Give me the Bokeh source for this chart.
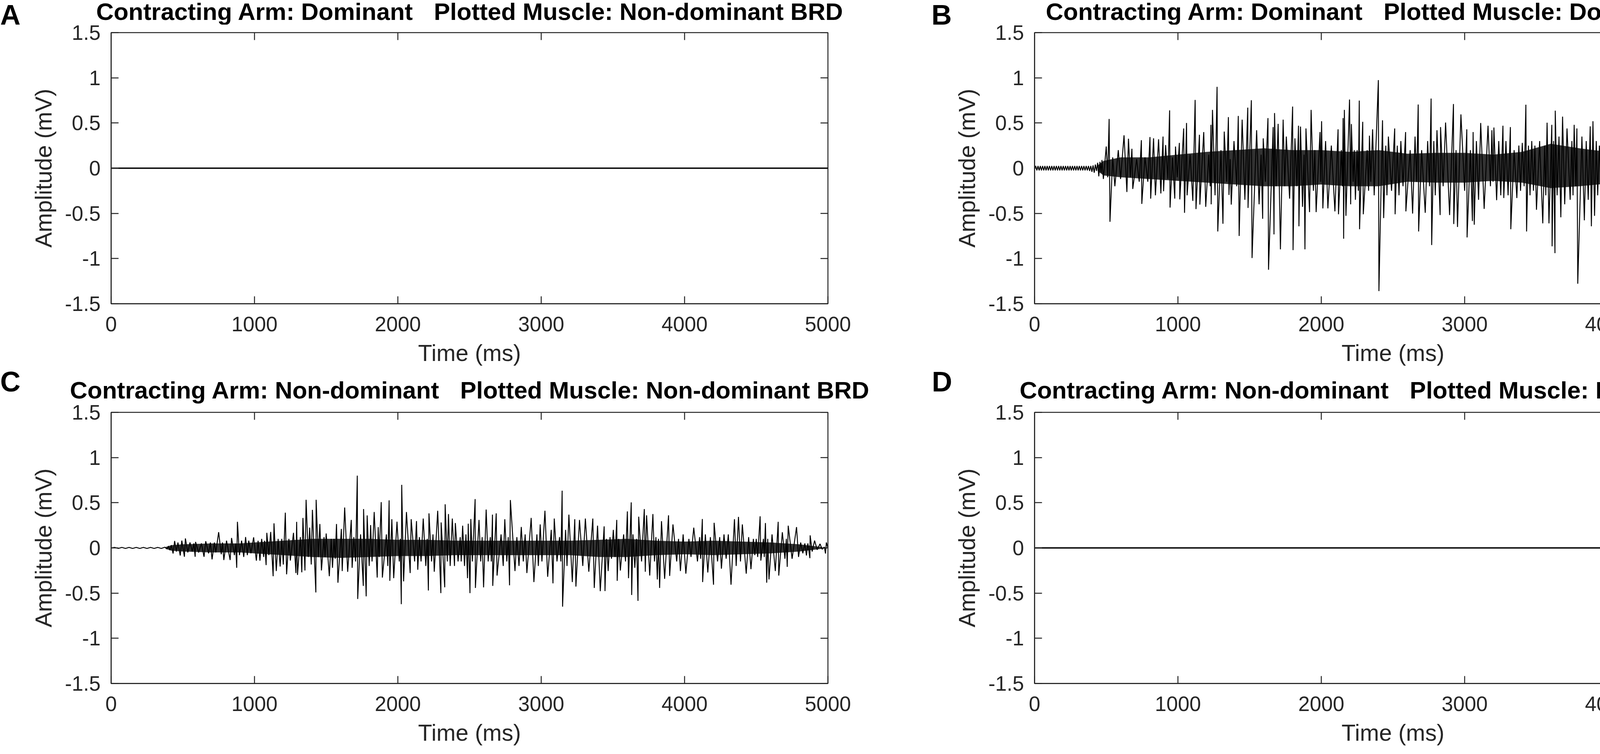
from bokeh.plotting import figure
from bokeh.models import Range1d, FixedTicker, NumeralTickFormatter
from bokeh.layouts import column, row
from bokeh.core.properties import value
from bokeh.embed import file_html
from bokeh.resources import INLINE

# ---------------- data ----------------
time_ticks = [0, 1000, 2000, 3000, 4000, 5000]
amp_ticks = [-1.5, -1, -0.5, 0, 0.5, 1, 1.5]

panel_letters = ["A", "B", "C", "D"]
title_arm = ["Contracting Arm: Dominant", "Contracting Arm: Dominant",
             "Contracting Arm: Non-dominant", "Contracting Arm: Non-dominant"]
title_muscle = ["Plotted Muscle: Non-dominant BRD", "Plotted Muscle: Dominant BRD",
                "Plotted Muscle: Non-dominant BRD", "Plotted Muscle: Dominant BRD"]
x_label = "Time (ms)"
y_label = "Amplitude (mV)"

# panel A / D: silent muscle (flat trace)
a_time = [0, 5000]
a_amp = [0.0, 0.0]
d_time = [0, 5000]
d_amp = [0.0, 0.0]

# panel B: (time ms, amplitude mV)
b_pre = [(0, 0.0), (8, 0.025), (16, -0.025), (24, 0.025), (32, -0.025), (40, 0.025), (48, -0.025),
         (56, 0.025), (64, -0.025), (72, 0.025), (80, -0.025), (88, 0.025), (96, -0.025), (104, 0.025),
         (112, -0.025), (120, 0.025), (128, -0.025), (136, 0.025), (144, -0.025), (152, 0.025),
         (160, -0.025), (168, 0.025), (176, -0.025), (184, 0.025), (192, -0.025), (200, 0.025),
         (208, -0.025), (216, 0.025), (224, -0.025), (232, 0.025), (240, -0.025), (248, 0.025),
         (256, -0.025), (264, 0.025), (272, -0.025), (280, 0.025), (288, -0.025), (296, 0.025),
         (304, -0.025), (312, 0.025), (320, -0.025), (328, 0.025), (336, -0.025), (344, 0.025),
         (352, -0.025), (360, 0.025), (368, -0.025), (376, 0.025), (384, -0.03), (392, 0.025),
         (400, -0.04), (408, 0.03), (416, -0.05), (424, 0.04), (432, -0.03), (440, 0.06),
         (448, -0.09), (456, 0.07), (464, -0.05)]
b_seg1 = [(470, 0.09), (480, -0.12), (500, 0.24), (510, -0.1), (520, 0.545), (526, -0.593), (545, 0.12),
          (560, -0.2), (584, 0.2), (600, -0.12), (624, 0.364), (644, -0.263), (655, 0.326), (668, -0.1),
          (679, 0.215), (685, -0.23), (712, 0.1), (730, -0.15), (745, 0.31), (748, -0.395), (770, 0.12),
          (790, -0.15), (805, 0.345), (810, -0.337), (830, 0.33), (843, -0.3), (865, 0.32), (881, -0.28),
          (896, 0.35), (900, -0.255), (914, 0.256), (930, -0.12), (942, 0.64), (945, -0.436), (962, 0.12),
          (978, -0.337), (983, 0.24), (995, -0.1), (1010, 0.28), (1013, -0.345), (1040, 0.44), (1046, -0.494),
          (1060, 0.5), (1064, -0.3), (1085, 0.15), (1104, -0.362), (1120, 0.755), (1126, -0.453), (1150, 0.37),
          (1153, -0.403), (1180, 0.4), (1194, -0.428), (1215, 0.15), (1225, -0.2), (1230, 0.48), (1232, -0.4),
          (1241, 0.645), (1259, -0.3), (1273, 0.9), (1278, -0.7), (1300, 0.2), (1314, -0.615), (1323, 0.405),
          (1340, -0.15), (1352, 0.565), (1356, -0.296), (1365, 0.1), (1372, -0.403), (1391, 0.3), (1410, -0.2),
          (1421, 0.578), (1427, -0.75), (1448, 0.537), (1467, -0.35), (1487, 0.67), (1489, -0.44), (1512, 0.752),
          (1517, -0.994), (1549, 0.42), (1566, -0.4), (1580, 0.15), (1591, -0.56), (1595, 0.33), (1610, -0.15),
          (1628, 0.554), (1632, -1.124), (1664, 0.455), (1670, -0.733)]
b_seg2 = [(1674, 0.61), (1685, -0.2), (1699, 0.49), (1715, -0.898), (1734, 0.537), (1745, -0.2), (1756, 0.35),
          (1779, -0.337), (1800, 0.682), (1803, -0.907), (1816, 0.33), (1830, -0.2), (1841, 0.47), (1844, -0.643),
          (1855, 0.46), (1869, -0.428), (1880, 0.15), (1886, -0.898), (1893, 0.44), (1918, -0.486), (1929, 0.645),
          (1945, -0.25), (1955, 0.2), (1964, -0.486), (1991, 0.4), (1996, -0.15), (2002, 0.52), (2011, -0.445),
          (2030, 0.3), (2046, -0.445), (2070, 0.25), (2095, -0.478), (2117, 0.43), (2120, -0.51), (2140, 0.2),
          (2148, -0.2), (2152, 0.554), (2156, -0.78), (2161, 0.645), (2172, -0.527), (2197, 0.76), (2205, -0.4),
          (2210, 0.488), (2222, -0.15), (2230, 0.2), (2238, -0.35), (2250, 0.2), (2258, -0.25), (2265, 0.748),
          (2267, -0.675), (2289, 0.513), (2293, -0.51), (2320, 0.2), (2330, -0.25), (2336, 0.36), (2345, -0.15),
          (2358, 0.43), (2369, -0.3), (2398, 0.975), (2402, -1.36), (2427, 0.53), (2435, -0.552), (2450, 0.25),
          (2458, -0.3), (2468, 0.35), (2490, -0.25), (2512, 0.44), (2515, -0.51), (2530, 0.25), (2542, -0.3),
          (2555, 0.3), (2570, -0.2), (2588, 0.4), (2590, -0.478), (2620, 0.2), (2637, -0.502), (2654, 0.35),
          (2665, -0.15), (2676, 0.705), (2679, -0.7), (2700, 0.2), (2725, -0.494), (2742, 0.3), (2755, -0.2),
          (2766, 0.77), (2770, -0.85), (2785, 0.3), (2795, -0.3), (2807, 0.42), (2829, -0.519), (2832, 0.455),
          (2850, -0.2), (2867, 0.505), (2895, -0.519), (2922, 0.71), (2924, -0.618), (2940, 0.2), (2950, -0.65),
          (2974, 0.595), (3000, -0.25), (3015, 0.43), (3017, -0.766), (3040, 0.2), (3054, -0.585), (3059, 0.4),
          (3067, -0.626), (3082, 0.3), (3097, -0.35), (3112, 0.5), (3136, -0.45), (3163, 0.47), (3180, -0.2),
          (3190, 0.42), (3198, -0.15), (3204, 0.45), (3223, -0.354), (3238, 0.3), (3252, -0.3), (3267, 0.47),
          (3273, -0.33), (3288, 0.3), (3303, -0.3), (3319, 0.455), (3322, -0.675)]
b_seg3 = [(3345, 0.2), (3364, -0.33), (3378, 0.25), (3390, -0.25), (3402, 0.28), (3415, -0.2), (3427, 0.702),
          (3432, -0.7), (3445, 0.25), (3456, -0.3), (3468, 0.3), (3480, -0.25), (3490, 0.25), (3501, -0.46),
          (3523, 0.3), (3545, -0.61), (3558, 0.25), (3566, -0.3), (3575, 0.504), (3588, -0.61), (3608, 0.48),
          (3610, -0.865), (3620, 0.3), (3630, -0.94), (3632, 0.636), (3645, -0.3), (3658, 0.35), (3671, -0.543),
          (3683, 0.57), (3698, -0.4), (3714, 0.44), (3736, -0.35), (3748, 0.3), (3756, -0.3), (3764, 0.48),
          (3775, -0.2), (3783, 0.44), (3789, -1.278), (3818, 0.35), (3835, -0.577), (3848, 0.3), (3862, -0.35),
          (3876, 0.463), (3884, -0.643), (3895, 0.52), (3906, -0.527), (3918, 0.3), (3928, -0.3), (3940, 0.25),
          (3961, -0.626), (3977, 0.53), (3980, -0.2), (3985, 0.62), (4000, -0.2), (4012, 0.702), (4015, -0.577),
          (4032, 0.463), (4059, -0.61), (4084, 0.36), (4095, -0.2), (4103, 1.012), (4109, -0.915), (4122, 0.3),
          (4138, -0.35), (4152, 0.672), (4158, -0.84), (4180, 0.25), (4202, -0.519), (4212, 0.25), (4222, -0.3),
          (4232, 0.463), (4240, -0.2), (4251, 0.636), (4254, -0.643), (4273, 0.44), (4280, -0.2), (4289, 0.738),
          (4293, -0.832), (4320, 0.25), (4342, -0.618), (4368, 0.405), (4393, -0.445), (4405, 0.25), (4415, -0.3),
          (4426, 0.562), (4428, -0.527), (4450, 0.2), (4473, -0.42), (4492, 0.689), (4502, -0.3), (4512, 0.25),
          (4522, -0.535), (4552, 0.35), (4580, -0.2), (4600, 0.34), (4603, -0.453), (4630, 0.2), (4645, -0.2),
          (4656, 0.42), (4665, -0.56), (4680, 0.25), (4692, -0.3), (4705, 0.3), (4715, -0.2), (4731, 0.39),
          (4749, -0.387), (4760, 0.44), (4772, -0.25), (4782, 0.2), (4793, -0.3), (4810, 0.15), (4826, -0.205),
          (4842, 0.466), (4845, -0.684), (4865, 0.2), (4875, -0.2), (4886, 0.48), (4891, -0.56), (4900, 0.15),
          (4913, -0.38), (4928, 0.15), (4940, -0.15), (4952, 0.18), (4971, -0.296), (4979, 0.22), (4990, -0.1),
          (5000, 0.02)]
b_core_time = [440, 480, 600, 800, 1000, 1200, 1400, 1600, 1800, 2000, 2200, 2400, 2600, 2800, 3000,
               3200, 3400, 3600, 3800, 4000, 4200, 4400, 4600, 4800, 5000]
b_core_hi = [0.03, 0.08, 0.12, 0.12, 0.15, 0.18, 0.2, 0.22, 0.2, 0.2, 0.18, 0.2, 0.16, 0.17, 0.17,
             0.15, 0.18, 0.27, 0.22, 0.18, 0.2, 0.16, 0.15, 0.12, 0.08]
b_core_lo = [-0.03, -0.08, -0.1, -0.12, -0.14, -0.16, -0.18, -0.2, -0.2, -0.18, -0.2, -0.2, -0.15, -0.16, -0.16,
             -0.14, -0.16, -0.22, -0.2, -0.17, -0.18, -0.15, -0.13, -0.1, -0.07]

# panel C
c_pre = [(0, 0.0), (25, 0.006), (50, -0.006), (75, 0.006), (100, -0.006), (125, 0.006), (150, -0.006),
         (175, 0.006), (200, -0.006), (225, 0.006), (250, -0.006), (275, 0.006), (300, -0.006), (325, 0.006),
         (350, -0.006), (375, 0.008), (390, -0.012), (400, 0.02), (410, -0.025)]
c_seg1 = [(420, 0.03), (432, -0.062), (443, 0.077), (455, -0.04), (466, 0.06), (482, -0.084), (493, 0.081),
          (511, -0.098), (518, 0.105), (535, -0.05), (550, 0.06), (566, -0.04), (577, 0.05), (586, -0.098),
          (589, 0.067), (610, -0.05), (630, 0.05), (648, -0.098), (660, 0.074), (680, -0.06), (692, 0.06),
          (704, -0.127), (720, 0.06), (730, -0.05), (750, 0.174), (768, -0.07), (777, 0.06), (786, -0.134),
          (805, 0.08), (830, -0.134), (840, 0.11), (860, -0.08), (868, 0.05), (876, -0.22), (881, 0.289),
          (895, -0.08), (910, 0.08), (925, -0.1), (938, 0.121), (950, -0.08), (960, 0.08), (975, -0.06),
          (994, 0.117), (1013, -0.141), (1025, 0.08), (1038, -0.141), (1050, 0.1), (1064, -0.1), (1070, 0.08),
          (1081, -0.19), (1086, 0.167), (1100, -0.08), (1113, 0.177), (1130, -0.313), (1136, 0.272),
          (1152, -0.256), (1165, 0.1), (1179, -0.206), (1190, 0.1), (1201, -0.184), (1215, 0.39), (1224, -0.292),
          (1240, 0.1), (1250, -0.14), (1272, 0.167), (1289, -0.278), (1294, 0.289), (1300, -0.299), (1320, 0.12),
          (1330, -0.27), (1338, 0.332), (1352, -0.25), (1360, 0.533), (1375, -0.1), (1385, 0.225), (1396, -0.184),
          (1404, 0.421), (1428, -0.493), (1430, 0.533), (1445, -0.1), (1456, 0.265), (1467, -0.249), (1485, 0.12),
          (1492, -0.1), (1500, 0.16), (1522, -0.313), (1535, 0.1), (1544, -0.22), (1555, 0.1), (1563, -0.12),
          (1572, 0.265), (1582, -0.385), (1606, 0.21), (1612, -0.256), (1629, 0.447), (1650, -0.264),
          (1675, 0.31), (1681, -0.22)]
c_seg2 = [(1693, 0.12), (1705, -0.15), (1717, 0.8), (1720, -0.565), (1740, 0.15), (1759, -0.42), (1761, 0.43),
          (1779, -0.536), (1786, 0.36), (1800, -0.2), (1810, 0.253), (1820, -0.15), (1835, 0.397), (1856, -0.328),
          (1863, 0.23), (1870, -0.1), (1884, 0.507), (1892, -0.328), (1920, 0.15), (1930, -0.2), (1939, 0.526),
          (1944, -0.364), (1958, 0.318), (1971, -0.335), (1994, 0.29), (2010, -0.15), (2017, 0.1), (2024, -0.622),
          (2027, 0.698), (2040, -0.37), (2060, 0.397), (2086, -0.278), (2093, 0.318), (2117, -0.15), (2130, 0.297),
          (2139, -0.242), (2150, 0.12), (2162, -0.15), (2177, 0.325), (2195, -0.2), (2205, 0.1), (2213, -0.471),
          (2217, 0.382), (2235, -0.15), (2245, 0.15), (2254, -0.263), (2278, 0.411), (2300, -0.5), (2302, 0.282),
          (2327, -0.436), (2330, 0.483), (2345, -0.15), (2353, 0.375), (2365, -0.2), (2380, 0.325), (2395, -0.2),
          (2401, 0.275), (2420, -0.15), (2435, 0.12), (2442, -0.15), (2452, 0.246), (2465, -0.2), (2475, 0.15),
          (2486, -0.335), (2491, 0.268), (2503, -0.5), (2509, 0.32), (2520, -0.15), (2539, 0.54), (2541, -0.443),
          (2566, 0.31), (2578, -0.15), (2588, 0.12), (2598, -0.436), (2616, 0.425), (2630, -0.15), (2645, 0.12),
          (2652, -0.15), (2660, 0.368), (2662, -0.42), (2686, 0.382), (2692, -0.306), (2720, 0.15), (2735, -0.2),
          (2746, 0.318), (2760, -0.15), (2770, 0.12), (2779, -0.414), (2785, 0.53), (2817, -0.256), (2830, 0.12),
          (2845, -0.2), (2861, 0.232), (2875, -0.15), (2888, 0.15), (2900, -0.278), (2930, 0.332), (2949, -0.378),
          (2970, 0.15), (2980, -0.2), (2993, 0.26), (3005, -0.15), (3026, 0.411), (3045, -0.32), (3070, 0.2),
          (3082, -0.392), (3091, 0.325), (3110, -0.15), (3128, 0.12), (3137, -0.15), (3146, 0.633), (3149, -0.65),
          (3170, 0.2), (3180, -0.2), (3193, 0.368), (3217, -0.378), (3234, 0.318), (3242, -0.428), (3267, 0.31),
          (3290, -0.2), (3308, 0.325), (3332, -0.263), (3360, 0.325), (3370, -0.443)]
c_seg3 = [(3393, 0.246), (3412, -0.478), (3439, 0.239), (3445, -0.478), (3455, 0.1), (3467, -0.256),
          (3480, 0.12), (3490, -0.12), (3503, 0.2), (3515, -0.1), (3527, 0.31), (3530, -0.364), (3540, 0.1),
          (3552, -0.25), (3575, 0.15), (3588, -0.15), (3601, 0.404), (3609, -0.335), (3628, 0.504), (3631, -0.521),
          (3640, 0.15), (3653, -0.22), (3665, 0.1), (3675, -0.586), (3680, 0.346), (3700, -0.15), (3719, 0.43),
          (3726, -0.264), (3735, 0.361), (3757, -0.306), (3779, 0.375), (3790, -0.15), (3800, 0.12), (3810, -0.349),
          (3818, 0.1), (3826, -0.443), (3839, 0.296), (3861, -0.342), (3888, 0.361), (3896, -0.31), (3919, 0.26),
          (3945, -0.15), (3958, 0.1), (3971, -0.256), (3990, 0.15), (4009, -0.285), (4030, 0.1), (4045, -0.1),
          (4064, 0.224), (4090, -0.15), (4105, 0.12), (4112, -0.12), (4124, 0.32), (4126, -0.378), (4145, 0.15),
          (4162, -0.272), (4180, 0.12), (4202, -0.407), (4206, 0.278), (4230, -0.15), (4245, 0.12), (4257, -0.23),
          (4275, 0.15), (4290, -0.12), (4305, 0.15), (4324, -0.407), (4348, 0.318), (4360, -0.2), (4376, 0.343),
          (4390, -0.15), (4403, 0.26), (4430, -0.285), (4447, 0.12), (4463, -0.235), (4480, 0.1), (4490, -0.08),
          (4500, 0.1), (4510, -0.1), (4527, 0.35), (4532, -0.14), (4550, 0.1), (4556, -0.1), (4564, 0.275),
          (4573, -0.385), (4580, 0.1), (4589, -0.349), (4610, 0.15), (4633, -0.256), (4653, 0.289), (4657, -0.306),
          (4682, 0.174), (4700, -0.12), (4710, 0.1), (4716, -0.21), (4723, 0.246), (4750, -0.12), (4781, 0.231),
          (4795, -0.1), (4810, 0.06), (4825, -0.06), (4839, 0.05), (4850, -0.084), (4860, 0.05), (4874, -0.113),
          (4876, 0.139), (4890, -0.04), (4907, 0.081), (4925, -0.02), (4945, 0.045), (4960, -0.015), (4975, 0.01),
          (4983, -0.062), (4989, 0.06), (5000, 0.0)]
c_core_time = [380, 420, 500, 700, 900, 1000, 1200, 1400, 1600, 1800, 2000, 2200, 2400, 2600, 2800,
               3000, 3200, 3400, 3600, 3800, 4000, 4200, 4400, 4600, 4800, 4900, 4960]
c_core_hi = [0.01, 0.03, 0.04, 0.05, 0.05, 0.06, 0.08, 0.1, 0.1, 0.1, 0.09, 0.09, 0.08, 0.08, 0.08,
             0.08, 0.08, 0.09, 0.1, 0.08, 0.07, 0.08, 0.07, 0.06, 0.04, 0.02, 0.01]
c_core_lo = [-0.01, -0.03, -0.04, -0.05, -0.05, -0.06, -0.08, -0.1, -0.11, -0.1, -0.09, -0.09, -0.08, -0.08, -0.08,
             -0.08, -0.08, -0.1, -0.1, -0.08, -0.07, -0.08, -0.07, -0.06, -0.04, -0.02, -0.01]

# ---------------- style / layout (page px) ----------------
FONT = "Liberation Sans"
AX = "#262626"
LW = 2.5
TICK_LEN = 19
FRAME_W, FRAME_H = 1835, 694
MS_PER_PX = 5000.0 / FRAME_W
MV_PER_PX = 3.0 / FRAME_H
TITLE_PX = 62
LETTER_PX = 72
MID = 0.3465  # distance (em) from the middle of the em box down to the baseline
EM_GAP = 0.834  # three spaces between the two title halves
TITLE_EM = {
    "Contracting Arm: Dominant": 13.111,
    "Contracting Arm: Non-dominant": 15.277,
    "Plotted Muscle: Non-dominant BRD": 16.889,
    "Plotted Muscle: Dominant BRD": 14.723,
}
COL_W = [2372, 2173]
BORDER_LR = [(284, 253), (276, 62)]
STRIP_H = [63, 96]
PANEL_TOP = 20
PANEL_BOTTOM = [160, 161]
# baselines measured from the bottom of each header strip
LETTER_XY = [(0, 0.5), (12, 0.5), (0, 34), (13, 34)]
TITLE_BASE = [13, 13, 16, 16]


def unzip(*segs):
    xs, ys = [], []
    for s in segs:
        for t, v in s:
            xs.append(t)
            ys.append(v)
    return xs, ys


def style_axis(ax, ticks, fmt, standoff, label, label_standoff):
    ax.ticker = FixedTicker(ticks=ticks)
    ax.formatter = NumeralTickFormatter(format=fmt)
    ax.axis_line_color = AX
    ax.axis_line_width = LW
    ax.major_tick_line_color = AX
    ax.major_tick_line_width = LW
    ax.major_tick_in = TICK_LEN
    ax.major_tick_out = 0
    ax.minor_tick_line_color = None
    ax.major_label_text_font = FONT
    ax.major_label_text_font_size = "53px"
    ax.major_label_text_color = AX
    ax.major_label_standoff = standoff
    ax.axis_label = label
    ax.axis_label_standoff = label_standoff
    ax.axis_label_text_font = FONT
    ax.axis_label_text_font_size = "59px"
    ax.axis_label_text_font_style = "normal"
    ax.axis_label_text_color = AX


def make_strip(idx, col, row_i):
    w, h = COL_W[col], STRIP_H[row_i]
    s = figure(width=w, height=h, x_range=Range1d(0, w), y_range=Range1d(0, h),
               x_axis_location=None, y_axis_location=None,
               output_backend="svg", toolbar_location=None,
               min_border_left=0, min_border_right=0, min_border_top=0, min_border_bottom=0)
    try:
        s.frame_align = False
    except Exception:
        pass
    s.xgrid.visible = False
    s.ygrid.visible = False
    s.outline_line_color = None
    s.background_fill_color = "white"
    s.border_fill_color = "white"
    left_txt, right_txt = title_arm[idx], title_muscle[idx]
    wl = TITLE_EM[left_txt] * TITLE_PX
    wr = TITLE_EM[right_txt] * TITLE_PX
    gap = EM_GAP * TITLE_PX
    centre = BORDER_LR[col][0] + FRAME_W / 2.0
    start = centre - (wl + gap + wr) / 2.0
    ty = TITLE_BASE[idx] + MID * TITLE_PX
    s.text(x=[start, start + wl + gap], y=[ty, ty], text=[left_txt, right_txt],
           text_font=value(FONT), text_font_size=value(f"{TITLE_PX}px"), text_font_style="bold",
           text_color="black", text_align="left", text_baseline="middle")
    lx, ly = LETTER_XY[idx]
    s.text(x=[lx], y=[ly + MID * LETTER_PX], text=[panel_letters[idx]],
           text_font=value(FONT), text_font_size=value(f"{LETTER_PX}px"), text_font_style="bold",
           text_color="black", text_align="left", text_baseline="middle")
    return s


def make_panel(col, row_i):
    bl, br = BORDER_LR[col]
    p = figure(frame_width=FRAME_W, frame_height=FRAME_H,
               x_range=Range1d(0, 5000), y_range=Range1d(-1.5, 1.5),
               output_backend="svg", toolbar_location=None,
               min_border_left=bl, min_border_right=br,
               min_border_top=PANEL_TOP, min_border_bottom=PANEL_BOTTOM[row_i])
    p.background_fill_color = "white"
    p.border_fill_color = "white"
    p.outline_line_color = AX
    p.outline_line_width = LW
    p.xgrid.visible = False
    p.ygrid.visible = False
    style_axis(p.xaxis[0], time_ticks, "0", 33, x_label, 20)
    style_axis(p.yaxis[0], amp_ticks, "0.[0]", 27, y_label, 18)
    # inward ticks on the top and right edges of the box
    p.segment(x0=time_ticks, y0=[1.5] * len(time_ticks), x1=time_ticks,
              y1=[1.5 - TICK_LEN * MV_PER_PX] * len(time_ticks), line_color=AX, line_width=LW)
    p.segment(x0=[5000] * len(amp_ticks), y0=amp_ticks, x1=[5000 - TICK_LEN * MS_PER_PX] * len(amp_ticks),
              y1=amp_ticks, line_color=AX, line_width=LW)
    return p


sA = make_strip(0, 0, 0)
sB = make_strip(1, 1, 0)
sC = make_strip(2, 0, 1)
sD = make_strip(3, 1, 1)

pA = make_panel(0, 0)
pB = make_panel(1, 0)
pC = make_panel(0, 1)
pD = make_panel(1, 1)

TRACE = "black"
pA.line(a_time, a_amp, line_color=TRACE, line_width=3.5)
pD.line(d_time, d_amp, line_color=TRACE, line_width=3.5)

bx, by = unzip(b_pre, b_seg1, b_seg2, b_seg3)
pB.varea(x=b_core_time, y1=b_core_lo, y2=b_core_hi, fill_color="black", fill_alpha=0.8)
pB.line(bx, by, line_color=TRACE, line_width=2.4)

cx, cy = unzip(c_pre, c_seg1, c_seg2, c_seg3)
pC.varea(x=c_core_time, y1=c_core_lo, y2=c_core_hi, fill_color="black", fill_alpha=0.8)
pC.line(cx, cy, line_color=TRACE, line_width=2.4)

layout = column(
    row(column(sA, pA, spacing=0), column(sB, pB, spacing=0), spacing=0),
    row(column(sC, pC, spacing=0), column(sD, pD, spacing=0), spacing=0),
    spacing=0,
)

with open("out.html", "w") as f:
    f.write(file_html(layout, INLINE))
